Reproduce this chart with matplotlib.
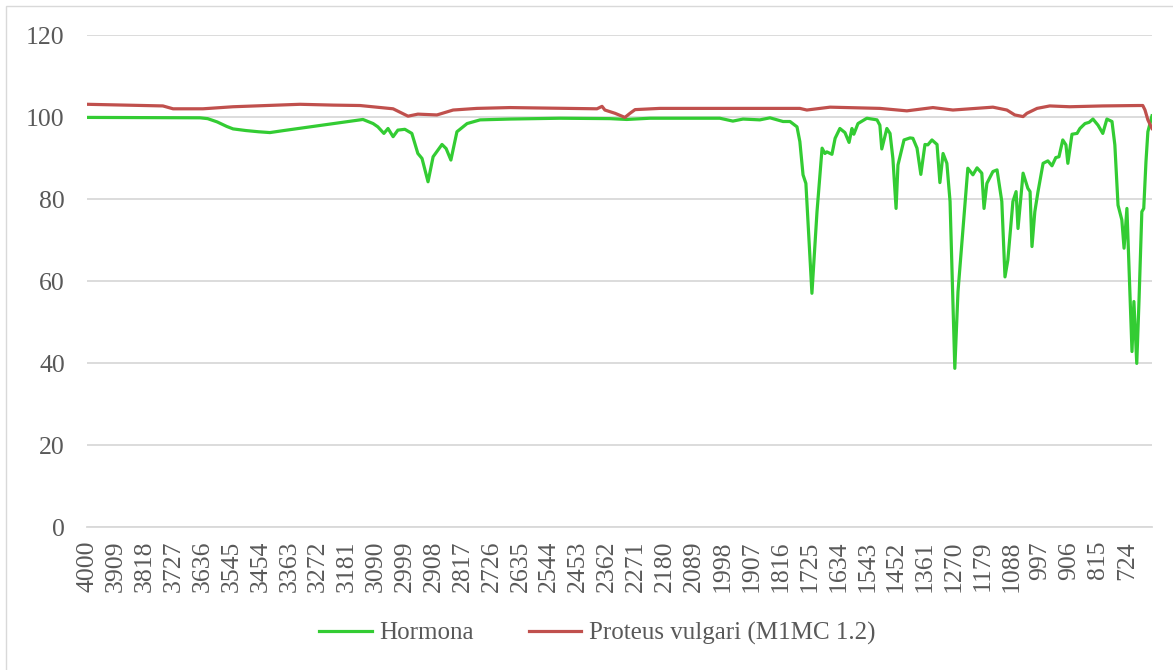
import matplotlib
matplotlib.use("Agg")
import matplotlib.pyplot as plt
from matplotlib.patches import Rectangle

# Hormona (green) spectrum: wavenumber (cm-1) and transmittance (%)
hormona_wn = [4000, 3644, 3620, 3590, 3560, 3540, 3500, 3460, 3424, 3380, 3131, 3099, 3084, 3065, 3052, 3036, 3021,
              2999, 2977, 2958, 2945, 2926, 2910, 2882, 2869, 2854, 2835, 2803, 2762,
              2668, 2510, 2353, 2300, 2227, 2007, 1966, 1934, 1881, 1849, 1808, 1786,
              1764, 1755, 1745, 1736, 1717, 1701, 1685, 1676, 1670, 1654, 1644, 1629,
              1613, 1600, 1591, 1585, 1572, 1544, 1512, 1503, 1497, 1481, 1471, 1462,
              1452, 1446, 1427, 1408, 1399, 1386, 1374, 1361, 1352, 1339, 1323, 1314,
              1304, 1292, 1282, 1267, 1257, 1241, 1226, 1210, 1197, 1182, 1175, 1166,
              1147, 1134, 1119, 1109, 1100, 1084, 1074, 1068, 1052, 1037, 1030, 1024,
              1015, 1005, 989, 974, 961, 949, 939, 927, 917, 911, 898, 882, 873, 857,
              844, 832, 816, 801, 788, 772, 763, 753, 741, 734, 725, 719, 709, 703,
              694, 687, 678, 672, 665, 659, 646]
hormona_t = [99.9, 99.8, 99.6, 98.8, 97.7, 97.1, 96.7, 96.4, 96.2, 96.7, 99.4, 98.4, 97.6, 96.0, 97.2, 95.2, 96.8,
             97.0, 96.0, 91.1, 89.9, 84.2, 90.3, 93.3, 92.3, 89.5, 96.4, 98.4, 99.3,
             99.5, 99.7, 99.6, 99.4, 99.7, 99.7, 99.0, 99.5, 99.3, 99.8, 98.9, 98.9,
             97.6, 94.0, 85.9, 83.8, 57.0, 76.9, 92.4, 91.1, 91.5, 90.9, 94.8, 97.2,
             96.2, 93.8, 97.2, 95.8, 98.4, 99.7, 99.3, 98.0, 92.2, 97.2, 96.0, 89.9,
             77.7, 88.3, 94.4, 94.9, 94.8, 92.4, 86.0, 93.3, 93.2, 94.4, 93.3, 84.0,
             91.1, 88.7, 79.4, 38.7, 57.4, 72.8, 87.5, 85.9, 87.6, 86.3, 77.7, 83.8,
             86.7, 87.1, 79.4, 61.0, 65.1, 79.4, 81.8, 72.8, 86.3, 82.6, 81.8, 68.4,
             76.9, 81.8, 88.7, 89.3, 88.1, 90.1, 90.3, 94.4, 93.2, 88.7, 95.8, 96.0,
             97.2, 98.4, 98.7, 99.5, 98.0, 96.0, 99.5, 98.9, 93.2, 78.5, 74.9, 68.0,
             77.7, 64.7, 42.8, 55.0, 39.9, 55.0, 76.9, 77.7, 89.1, 96.4, 100.3]

# Proteus vulgari (M1MC 1.2) (red) spectrum
proteus_wn = [4000, 3761, 3729, 3635, 3540, 3329, 3225, 3140, 3036, 2989, 2958, 2898,
              2847, 2772, 2668, 2394, 2378, 2369, 2337, 2306, 2290, 2274, 2196, 1755,
              1733, 1660, 1503, 1418, 1336, 1273, 1147, 1103, 1078, 1052, 1040, 1008,
              968, 905, 801, 690, 675, 668, 659, 646]
proteus_t = [103.1, 102.7, 102.0, 102.0, 102.5, 103.1, 102.9, 102.8, 102.0, 100.2, 100.7, 100.5,
             101.7, 102.1, 102.3, 102.0, 102.6, 101.7, 100.9, 99.9, 100.9, 101.8, 102.1, 102.1,
             101.7, 102.4, 102.1, 101.5, 102.3, 101.7, 102.4, 101.7, 100.5, 100.1, 100.9, 102.1,
             102.7, 102.5, 102.7, 102.8, 102.8, 101.7, 99.3, 97.2]

x_ticks = [4000, 3909, 3818, 3727, 3636, 3545, 3454, 3363, 3272, 3181, 3090, 2999,
           2908, 2817, 2726, 2635, 2544, 2453, 2362, 2271, 2180, 2089, 1998, 1907,
           1816, 1725, 1634, 1543, 1452, 1361, 1270, 1179, 1088, 997, 906, 815, 724]
y_ticks = [0, 20, 40, 60, 80, 100, 120]
series_names = ["Hormona", "Proteus vulgari (M1MC 1.2)"]

plt.rcParams['font.family'] = ['Liberation Serif', 'DejaVu Serif']
text_color = '#595959'
grid_color = '#D9D9D9'

fig = plt.figure(figsize=(11.73, 6.70), dpi=100)
ax = fig.add_axes([87/1173, 1-527/670, (1152-87)/1173, (527-35)/670])

ax.plot(hormona_wn, hormona_t, color='#33CC33', lw=2.3, label=series_names[0],
        solid_joinstyle='round')
ax.plot(proteus_wn, proteus_t, color='#C0504D', lw=2.3, label=series_names[1],
        solid_joinstyle='round')

ax.set_xlim(4000, 646)
ax.set_ylim(0, 120)
ax.set_yticks(y_ticks)
ax.set_xticks(x_ticks)
ax.set_xticklabels([str(v) for v in x_ticks], rotation=90)
ax.tick_params(axis='x', length=0, pad=10, labelsize=18.5, colors=text_color)
ax.tick_params(axis='y', length=0, pad=16, labelsize=18.5, colors=text_color)
ax.yaxis.grid(True, color=grid_color, lw=1.3)
ax.set_axisbelow(True)
for s in ['top', 'right', 'left']:
    ax.spines[s].set_visible(False)
ax.spines['bottom'].set_color(grid_color)
ax.spines['bottom'].set_linewidth(1.3)

leg = fig.legend(loc='center', bbox_to_anchor=(0.509, 0.055), ncol=2, frameon=False,
                 fontsize=18, handlelength=2.1, handletextpad=0.3, columnspacing=2.2)
for t in leg.get_texts():
    t.set_color(text_color)

fig.patches.append(Rectangle((6/1173, -0.1), 1.2, 1.1 - 6/670, transform=fig.transFigure,
                             fill=False, edgecolor=grid_color, lw=1.0))

fig.savefig('out.png', dpi=100)
